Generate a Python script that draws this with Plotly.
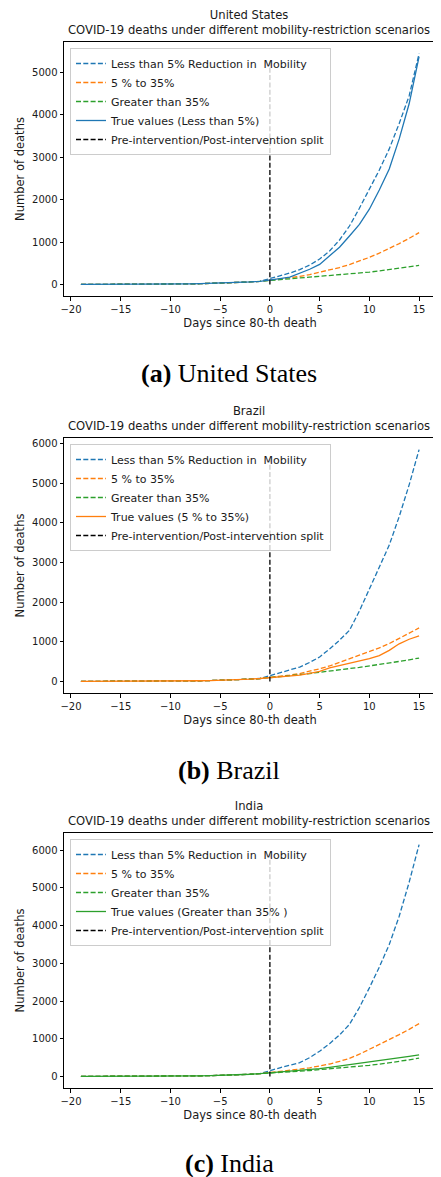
import plotly.graph_objects as go

W, H = 441, 1177
OFF = 8  # default page body margin of the browser
FW, FH = W - OFF, H - OFF

days = list(range(-19, 16))

# ---- pre-intervention cumulative deaths (days -19 .. -1) ----
pre_us = [1, 1, 2, 2, 3, 4, 5, 6, 8, 10, 12, 15, 19, 24, 30, 38, 48, 60, 75]
pre_br = [1, 1, 1, 2, 2, 3, 4, 5, 7, 9, 11, 14, 18, 23, 29, 36, 46, 58, 74]
pre_in = [1, 1, 2, 2, 3, 3, 4, 5, 6, 8, 10, 13, 17, 22, 28, 36, 46, 58, 74]

# ---- post-intervention values (days 0 .. 15) ----
us_low = [140, 200, 270, 350, 460, 600, 790, 1050, 1380, 1800, 2250, 2700, 3200, 3800, 4450, 5450]
us_mid = [100, 125, 155, 190, 235, 285, 340, 400, 470, 550, 640, 740, 850, 965, 1090, 1225]
us_high = [95, 110, 125, 140, 160, 180, 200, 220, 245, 268, 292, 320, 350, 380, 415, 450]
us_true = [100, 140, 174, 260, 360, 474, 671, 880, 1145, 1420, 1777, 2230, 2725, 3436, 4265, 5380]

br_low = [150, 220, 290, 363, 480, 616, 820, 1040, 1290, 1780, 2330, 2880, 3440, 4160, 4960, 5850]
br_mid = [100, 125, 160, 200, 255, 320, 390, 480, 575, 655, 740, 845, 955, 1080, 1210, 1350]
br_high = [95, 115, 140, 170, 200, 236, 265, 295, 325, 355, 388, 425, 465, 505, 545, 590]
br_true = [95, 110, 130, 160, 205, 253, 340, 400, 450, 505, 575, 650, 785, 950, 1065, 1150]

in_low = [160, 230, 300, 365, 500, 670, 870, 1100, 1380, 1830, 2350, 2900, 3500, 4250, 5150, 6150]
in_mid = [100, 125, 160, 195, 230, 270, 330, 400, 480, 590, 715, 840, 980, 1110, 1250, 1400]
in_high = [95, 110, 125, 140, 158, 178, 198, 220, 242, 268, 295, 325, 360, 400, 440, 487]
in_true = [95, 110, 130, 150, 175, 205, 240, 275, 310, 345, 380, 410, 450, 490, 535, 575]

split_top = {"us": 5260, "br": 5600, "in": 5890}

countries = ["United States", "Brazil", "India"]
captions = ["<b>(a)</b> United States", "<b>(b)</b> Brazil", "<b>(c)</b> India"]
true_labels = ["True values (Less than 5%)", "True values (5 % to 35%)",
               "True values (Greater than 35% )"]
scen_labels = ["Less than 5% Reduction in  Mobility", "5 % to 35%", "Greater than 35%"]
split_label = "Pre-intervention/Post-intervention split"

C_BLUE, C_ORANGE, C_GREEN = "#1f77b4", "#ff7f0e", "#2ca02c"
DASH = "5px,2.3px"
LW = 1.3
TXT = "#1a1a1a"
FONT = "DejaVu Sans"

panels = [
    dict(key="us", pre=pre_us, series=[us_low, us_mid, us_high], true=us_true, true_color=C_BLUE,
         top=42, bottom=296, cap_y=373),
    dict(key="br", pre=pre_br, series=[br_low, br_mid, br_high], true=br_true, true_color=C_ORANGE,
         top=438, bottom=693, cap_y=770),
    dict(key="in", pre=pre_in, series=[in_low, in_mid, in_high], true=in_true, true_color=C_GREEN,
         top=833, bottom=1088, cap_y=1163),
]

PX_L, PX_R = 64, 436


def fx(px):
    return (px - OFF) / FW


def fy(py):
    return 1 - (py - OFF) / FH


fig = go.Figure()
layout = dict(
    width=FW, height=FH,
    margin=dict(l=0, r=0, t=0, b=0),
    paper_bgcolor="white", plot_bgcolor="white",
    font=dict(family=FONT, size=10, color=TXT),
    annotations=[],
)

for i, p in enumerate(panels):
    n = i + 1
    xa = "x" if n == 1 else f"x{n}"
    ya = "y" if n == 1 else f"y{n}"
    leg = "legend" if n == 1 else f"legend{n}"
    colors = [C_BLUE, C_ORANGE, C_GREEN]
    allvals = []
    for s, c, lab in zip(p["series"], colors, scen_labels):
        yv = p["pre"] + s
        allvals += yv
        fig.add_trace(go.Scatter(x=days, y=yv, mode="lines", name=lab,
                                 line=dict(color=c, width=LW, dash=DASH),
                                 xaxis=xa, yaxis=ya, legend=leg))
    yt = p["pre"] + p["true"]
    allvals += yt
    fig.add_trace(go.Scatter(x=days, y=yt, mode="lines", name=true_labels[i],
                             line=dict(color=p["true_color"], width=LW),
                             xaxis=xa, yaxis=ya, legend=leg))
    fig.add_trace(go.Scatter(x=[0, 0], y=[0, split_top[p["key"]]], mode="lines", name=split_label,
                             line=dict(color="black", width=LW, dash=DASH),
                             xaxis=xa, yaxis=ya, legend=leg))

    ymin, ymax = min(allvals), max(allvals)
    pad = 0.05 * (ymax - ymin)
    xpad = 0.05 * (days[-1] - days[0])

    axis_common = dict(showline=True, mirror=True, linecolor="black", linewidth=1,
                       ticks="outside", ticklen=3.5, tickwidth=1, tickcolor="black",
                       showgrid=False, zeroline=False, automargin=False,
                       tickfont=dict(family=FONT, size=10, color=TXT))
    layout["xaxis" if n == 1 else f"xaxis{n}"] = dict(
        axis_common, domain=[fx(PX_L), fx(PX_R)], anchor=ya,
        range=[days[0] - xpad, days[-1] + xpad], tick0=-20, dtick=5,
        title=dict(text="Days since 80-th death", font=dict(family=FONT, size=11.5, color=TXT),
                   standoff=5),
    )
    layout["yaxis" if n == 1 else f"yaxis{n}"] = dict(
        axis_common, domain=[fy(p["bottom"]), fy(p["top"])], anchor=xa,
        range=[ymin - pad, ymax + pad], tick0=0, dtick=1000,
        title=dict(text="Number of deaths", font=dict(family=FONT, size=11.5, color=TXT),
                   standoff=5),
    )
    layout[leg] = dict(
        x=fx(70), y=fy(p["top"] + 6), xanchor="left", yanchor="top",
        bgcolor="rgba(255,255,255,0.8)", bordercolor="#cccccc", borderwidth=1,
        font=dict(family=FONT, size=11, color=TXT), itemwidth=30,
        tracegroupgap=0,
    )
    layout["annotations"].append(dict(
        text=countries[i] + "<br>COVID-19 deaths under different mobility-restriction scenarios",
        x=fx((PX_L + PX_R) / 2 - 1), y=fy(p["top"] - 3), xref="paper", yref="paper",
        xanchor="center", yanchor="bottom", showarrow=False, align="center",
        font=dict(family=FONT, size=11.6, color=TXT)))
    layout["annotations"].append(dict(
        text=captions[i], x=fx(229), y=fy(p["cap_y"]), xref="paper", yref="paper",
        xanchor="center", yanchor="middle", showarrow=False,
        font=dict(family="Liberation Serif", size=26, color="black")))

fig.update_layout(**layout)
fig.write_html("out.html")
